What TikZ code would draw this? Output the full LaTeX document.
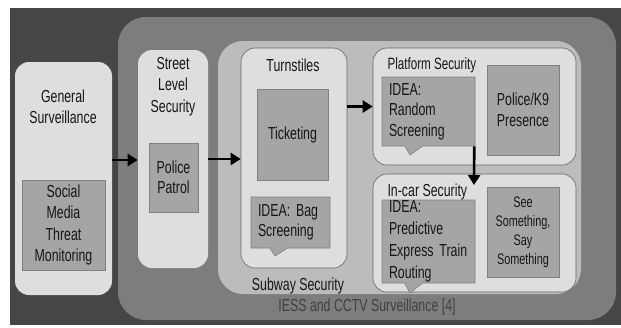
\documentclass[tikz,border=0pt]{standalone}
\usepackage{fontspec}
\setmainfont[FakeStretch=0.71]{Liberation Sans}
\usepackage{tikz}
\usetikzlibrary{arrows.meta}
\usetikzlibrary{positioning}
\usetikzlibrary{shapes.callouts}

\definecolor{bgdark}{HTML}{464646}
\definecolor{iessgray}{HTML}{7D7D7D}
\definecolor{subgray}{HTML}{BCBCBC}
\definecolor{panelgray}{HTML}{DEDEDE}
\definecolor{itemgray}{HTML}{A5A5A5}
\definecolor{inkgray}{HTML}{161616}

\begin{document}
\begin{tikzpicture}[x=1pt, y=-1pt,
    txt/.style={font=\fontsize{17.4}{20.5}\selectfont, text=inkgray},
    panel/.style={draw=black!60, line width=0.6pt, fill=panelgray, rounded corners=14pt, inner sep=0pt},
    item/.style={draw=black!50, line width=0.6pt, fill=itemgray, align=center, inner sep=2pt, txt},
    idea/.style={rectangle callout, draw=black!50, line width=0.6pt, fill=itemgray, align=left,
        inner xsep=7pt, inner ysep=0pt, callout pointer width=18pt, txt},
    flow/.style={-{Triangle[length=10pt,width=12pt]}, line width=2.6pt, black}]
    \useasboundingbox (0,0) rectangle (621,327);
    \node[fill=bgdark, minimum width=611pt, minimum height=317pt, inner sep=0pt] (bg) at (315.5,166.5) {};
    \node[fill=iessgray, rounded corners=28pt, minimum width=498pt, minimum height=303pt, inner sep=0pt] (iess) at (367,168.5) {};
    \node[txt, text=black!75] (iesslbl) at (367,307) {IESS and CCTV Surveillance [4]};

    \node[panel, draw=none, minimum width=97pt, minimum height=233pt] (gen) at (63.5,178.5) {};
    \node[txt, align=center] (genlbl) at (63,107) {General\\Surveillance};
    \node[item, font=\fontsize{17.4}{21.3}\selectfont, minimum width=83pt, minimum height=90pt] (social) at (63.5,225) {Social\\Media\\Threat\\Monitoring};

    \node[panel, draw=none, minimum width=70pt, minimum height=218pt] (street) at (173,159) {};
    \node[txt, align=center, font=\fontsize{17.4}{21.5}\selectfont] (streetlbl) at (173,86.5) {Street\\Level\\Security};
    \node[item, minimum width=49pt, minimum height=69pt] (patrol) at (173.5,177.5) {Police\\Patrol};

    \node[fill=subgray, rounded corners=25pt, minimum width=363pt, minimum height=253pt, inner sep=0pt] (subway) at (399.5,167.5) {};
    \node[txt] (subwaylbl) at (298,286) {Subway Security};

    \node[panel, minimum width=106pt, minimum height=220pt] (turn) at (294,158) {};
    \node[txt] (turnlbl) at (293,65) {Turnstiles};
    \node[item, minimum width=71pt, minimum height=91pt] (ticket) at (292.5,134.5) {Ticketing};
    \node[idea, text width=65pt, minimum height=51pt, callout absolute pointer={(275,256)}] (bag) at (290.5,222.5) {IDEA: Bag\\Screening};

    \node[panel, minimum width=203pt, minimum height=117pt] (plat) at (474.5,106.5) {};
    \node[txt, font=\fontsize{16.4}{19}\selectfont, anchor=west] (platlbl) at (384,65) {Platform Security};
    \node[idea, text width=79pt, minimum height=69pt, callout absolute pointer={(410,155)}] (random) at (428.5,111.5) {IDEA:\\Random\\Screening};
    \node[item, minimum width=72pt, minimum height=90pt] (k9) at (523,110) {Police/K9\\Presence};

    \node[panel, minimum width=203pt, minimum height=118pt] (incar) at (474.5,233) {};
    \node[txt, anchor=west] (incarlbl) at (384,192) {In-car Security};
    \node[idea, font=\fontsize{17.4}{22}\selectfont, text width=79pt, minimum height=83pt, callout absolute pointer={(410,293)}] (predict) at (428.5,241.5) {IDEA:\\Predictive\\Express Train\\Routing};
    \node[item, font=\fontsize{15.3}{19}\selectfont, minimum width=72pt, minimum height=90pt] (seesay) at (523,232) {See\\Something,\\Say\\Something};

    \coordinate (drop) at (474,185);
    \draw[flow] ([yshift=18.5pt]gen.east) -- ([yshift=18.5pt]gen.east -| street.west);
    \draw[flow] (street.east) -- (street.east -| turn.west);
    \draw[flow] (turn.east |- plat.west) -- (plat.west);
    \draw[flow] ([xshift=-1pt]random.south east) -- (drop);
\end{tikzpicture}
\end{document}
